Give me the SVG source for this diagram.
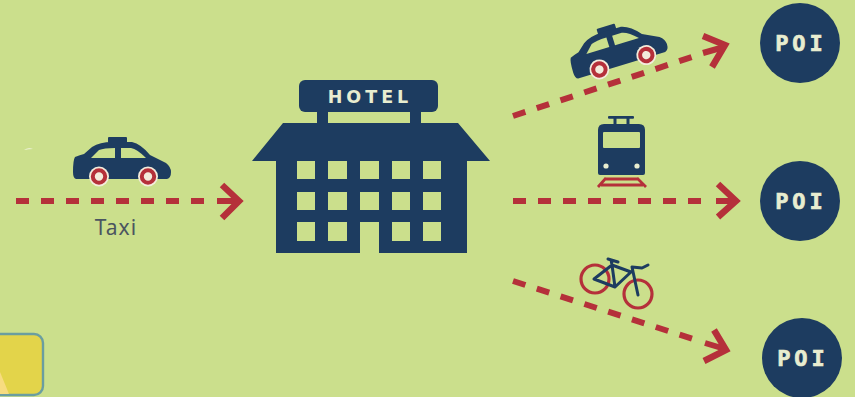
<svg xmlns="http://www.w3.org/2000/svg" width="855" height="397" viewBox="0 0 855 397">
<style>
.navy{fill:#1d3c60}
.bg{fill:#cbdf8c}
.dash{fill:none;stroke:#b5303a;stroke-width:6;stroke-dasharray:13 12}
.head{fill:none;stroke:#b5303a;stroke-width:6.5;stroke-miterlimit:6}
.shaft{fill:none;stroke:#b5303a;stroke-width:6}
.lbl{font-family:"DejaVu Sans",sans-serif;font-weight:700;fill:#e8edd0;text-anchor:middle}
.poi{font-family:"DejaVu Sans Mono",monospace;font-weight:700;font-size:22px;letter-spacing:4px;fill:#e8edd0;stroke:#e8edd0;stroke-width:.7;text-anchor:middle}
.ring{fill:#f3ecdc}
.wheel{fill:#f3ecdc;stroke:#b5303a;stroke-width:4}
.rail{fill:none;stroke:#b5303a;stroke-width:2.8}
.bk{fill:none;stroke:#b5303a;stroke-width:3.2}
.fr{fill:none;stroke:#1d3c60;stroke-width:3;stroke-linecap:round;stroke-linejoin:round}
</style>
<defs>
<g id="car">
<rect class="navy" x="108" y="137" width="19" height="6" rx="1"/>
<path class="navy" d="M73 172Q73 160 75 157Q80 155 84 154L92 147Q100 142 112 142L132 142Q141 144 150 155L166 163Q171 167 171 172Q171 178 167 179L76 179Q73 178 73 172Z"/>
<path class="bg" d="M91 158L99 150Q104 148 115 148L115 158Z"/>
<path class="bg" d="M121 148L131 148Q137 149 146 158L121 158Z"/>
<circle class="ring" cx="99" cy="176.500" r="10"/>
<circle class="ring" cx="148" cy="176.500" r="10"/>
<circle class="wheel" cx="99" cy="176.500" r="6.200"/>
<circle class="wheel" cx="148" cy="176.500" r="6.200"/>
</g>
</defs>
<rect class="bg" width="855" height="397"/>
<path d="M24 150Q28 147 33 149Q28 149 24 150Z" fill="#f4f6e6"/>

<g id="connectors">
<path class="dash" d="M16 201H205"/>
<path class="shaft" d="M217 201H238"/>
<path class="head" d="M222 185L239 201L222 218"/>
<path class="dash" d="M513 116L692 57"/>
<path class="shaft" d="M703 53L724 47"/>
<path class="head" d="M703 36L725 45L712 67"/>
<path class="dash" d="M513 201H703"/>
<path class="shaft" d="M716 201H735"/>
<path class="head" d="M718 184L736 201L718 217"/>
<path class="dash" d="M513 281L693 339"/>
<path class="shaft" d="M705 343L725 349"/>
<path class="head" d="M714 330L726 350L704 361"/>
</g>

<g id="taxi">
<use href="#car"/>
<text x="116" y="235" font-family="'Noto Sans',sans-serif" font-size="21" letter-spacing="1" fill="#4a5560" text-anchor="middle">Taxi</text>
</g>

<g id="hotel">
<rect class="navy" x="299" y="80" width="139" height="32" rx="6"/>
<rect class="navy" x="317" y="110" width="11" height="15"/>
<rect class="navy" x="410" y="110" width="11" height="15"/>
<path class="navy" fill-rule="evenodd" d="M283 123H458L490 161H467V253H379V222H360V253H276V161H252Z
M297 161V179H315V161Z M328 161V179H347V161Z M360 161V179H379V161Z M392 161V179H410V161Z M423 161V179H441V161Z
M297 192V210H315V192Z M328 192V210H347V192Z M360 192V210H379V192Z M392 192V210H410V192Z M423 192V210H441V192Z
M297 222V241H315V222Z M328 222V241H347V222Z M392 222V241H410V222Z M423 222V241H441V222Z"/>
<text class="lbl" x="370" y="103" font-size="17.500" letter-spacing="4">HOTEL</text>
</g>

<g id="taxi-route">
<use href="#car" transform="translate(616 45) rotate(-17) translate(-122 -158)"/>
</g>

<g id="train">
<rect class="navy" x="608" y="116" width="26" height="2.800" rx="1"/>
<path class="fr" d="M615 118V124M628 118V124"/>
<path class="navy" d="M598 130Q598 124 604 124H639Q645 124 645 130V173Q645 175 643 175H600Q598 175 598 173Z"/>
<rect class="bg" x="603" y="132" width="37" height="16" rx="1"/>
<circle cx="606" cy="166" r="2.600" fill="#e8edd0"/>
<circle cx="637" cy="166" r="2.600" fill="#e8edd0"/>
<path class="rail" d="M605 179H638M601 185H643M606 178L598 187M637 178L646 187"/>
</g>

<g id="bicycle">
<circle class="bk" cx="595" cy="279" r="14"/>
<circle class="bk" cx="638" cy="294" r="14"/>
<path class="fr" d="M594 279L612 265L631 272L615 287ZM612 265L615 287M612 265L611 260M608 259L618 262M638 295L632 267L642 268L648 265"/>
</g>

<g id="poi-1"><circle class="navy" cx="800" cy="43" r="40"/><text class="poi" x="801" y="51">POI</text></g>
<g id="poi-2"><circle class="navy" cx="800" cy="201" r="40"/><text class="poi" x="801" y="209">POI</text></g>
<g id="poi-3"><circle class="navy" cx="802" cy="358" r="40"/><text class="poi" x="803" y="366">POI</text></g>

<g id="note">
<rect x="-12" y="334" width="55" height="61" rx="9" fill="#e3d44a" stroke="#6a9ea0" stroke-width="2.400"/>
<path d="M0 372L9 394H0Z" fill="#f7dc80"/>
</g>
</svg>
